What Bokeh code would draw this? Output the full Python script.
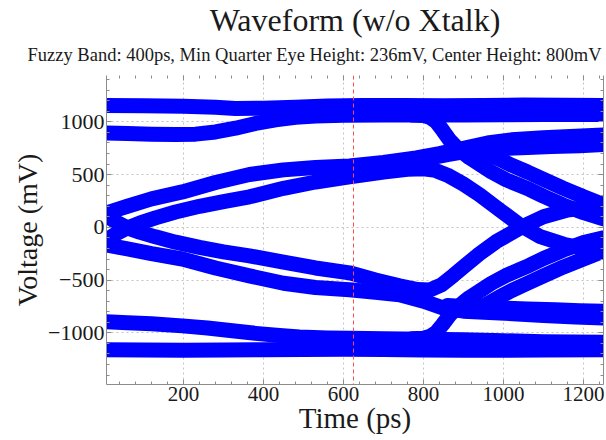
from bokeh.plotting import figure
from bokeh.models import Range1d, LinearAxis, Title, Span, FixedTicker
from bokeh.embed import file_html
from bokeh.resources import INLINE

FONT = "Liberation Serif"
BLUE = "#0000ff"

title_text = "Waveform (w/o Xtalk)"
subtitle_text = "Fuzzy Band: 400ps, Min Quarter Eye Height: 236mV, Center Height: 800mV"
x_label = "Time (ps)"
y_label = "Voltage (mV)"
x_ticks = [200, 400, 600, 800, 1000, 1200]
y_ticks = [-1000, -500, 0, 500, 1000]
x_minor = list(range(40, 1250, 40))
y_minor = list(range(-1400, 1450, 100))
center_time = 625

# ---- eye-diagram traces (time in ps, voltage in mV) ----
top_t = [7, 100, 200, 280, 330, 400, 480, 560, 650, 750, 850, 950, 1050, 1150, 1250]
top_v = [1155, 1152, 1148, 1138, 1128, 1130, 1140, 1150, 1155, 1155, 1152, 1155, 1160, 1158, 1155]

high2_t = [7, 60, 120, 180, 230, 280, 330, 380, 430, 480, 530, 600, 700, 800, 900, 1000, 1100, 1250]
high2_v = [895, 890, 884, 880, 884, 905, 940, 985, 1020, 1043, 1055, 1062, 1065, 1065, 1065, 1068, 1070, 1070]

fall1_t = [770, 800, 815, 832, 848, 865, 880, 900, 915, 940, 970, 1007, 1040, 1065, 1100, 1150, 1200, 1250]
fall1_v = [1065, 1060, 1045, 1000, 920, 830, 770, 705, 660, 600, 525, 450, 400, 360, 295, 210, 140, 80]

rise_out_t = [7, 60, 120, 197, 280, 365, 450, 530, 615, 700, 782, 840, 900, 960, 1020, 1100, 1180, 1250]
rise_out_v = [137, 200, 270, 336, 425, 501, 545, 568, 583, 615, 659, 700, 750, 800, 830, 850, 865, 875]

mid2_t = [820, 860, 900, 950, 1000, 1060, 1120, 1190, 1250]
mid2_v = [660, 690, 715, 735, 748, 758, 766, 775, 785]

fall2_t = [930, 960, 990, 1020, 1060, 1100, 1150, 1200, 1250]
fall2_v = [745, 705, 645, 590, 525, 455, 370, 290, 215]

rise_in_t = [7, 30, 60, 90, 130, 180, 240, 300, 365, 450, 530, 615, 700, 760, 800, 830,
             860, 900, 940, 990, 1040, 1090, 1150, 1200, 1250]
rise_in_v = [-118, -65, -5, 40, 90, 145, 200, 245, 290, 370, 430, 479, 525, 550, 555, 540,
             495, 410, 310, 166, 24, -85, -160, -200, -220]

fall_in_t = [7, 30, 60, 90, 130, 180, 240, 300, 365, 450, 530, 615, 680, 740, 785, 815,
             845, 875, 905, 940, 982, 1048, 1100, 1160, 1250]
fall_in_v = [109, 55, -5, -45, -90, -140, -190, -232, -270, -330, -385, -431, -500, -555, -590, -595,
             -545, -455, -360, -250, -135, 8, 100, 165, 210]

fall_out_t = [7, 60, 120, 197, 280, 365, 450, 530, 615, 680, 740, 800, 850, 900, 990, 1100, 1180, 1250]
fall_out_v = [-166, -205, -250, -300, -385, -460, -530, -570, -592, -615, -640, -700, -765, -795, -811, -835, -850, -860]

low2b_t = [860, 920, 990, 1060, 1130, 1190, 1250]
low2b_v = [-740, -755, -765, -775, -782, -790, -795]

rise2_t = [930, 960, 990, 1020, 1060, 1100, 1150, 1200, 1250]
rise2_v = [-775, -725, -660, -600, -530, -460, -375, -300, -225]

rise1_t = [770, 800, 815, 832, 848, 865, 880, 900, 915, 940, 970, 1007, 1040, 1065, 1100, 1150, 1200, 1250]
rise1_v = [-1057, -1052, -1035, -995, -920, -835, -775, -710, -665, -605, -530, -455, -400, -360, -295, -215, -145, -100]

low2_t = [7, 60, 120, 197, 260, 322, 380, 440, 490, 560, 615, 700, 800, 900, 1000, 1100, 1250]
low2_v = [-896, -905, -915, -934, -955, -981, -1005, -1025, -1040, -1048, -1052, -1057, -1060, -1065, -1075, -1085, -1090]

bottom_t = [7, 100, 200, 300, 400, 500, 600, 700, 800, 900, 1000, 1100, 1250]
bottom_v = [-1160, -1162, -1165, -1163, -1160, -1158, -1155, -1158, -1162, -1165, -1165, -1162, -1160]

xs = [top_t, high2_t, fall1_t, rise_out_t, mid2_t, fall2_t, rise_in_t,
      fall_in_t, fall_out_t, low2b_t, rise2_t, rise1_t, low2_t, bottom_t]
ys = [top_v, high2_v, fall1_v, rise_out_v, mid2_v, fall2_v, rise_in_v,
      fall_in_v, fall_out_v, low2b_v, rise2_v, rise1_v, low2_v, bottom_v]

p = figure(width=605, height=439,
           x_range=Range1d(7.5, 1250), y_range=Range1d(-1490, 1440),
           output_backend="svg", toolbar_location=None,
           min_border_left=106, min_border_right=2,
           min_border_top=75, min_border_bottom=55)
p.outline_line_color = None

p.multi_line(xs, ys, line_color=BLUE, line_width=15,
             line_join="round", line_cap="round")

p.add_layout(Span(location=center_time, dimension="height",
                  line_color="#ff4d4d", line_dash="4 3", line_width=1))


def style_axis(ax, labels=True):
    ax.axis_line_color = "#8c8c8c"
    ax.major_tick_line_color = "#8c8c8c"
    ax.minor_tick_line_color = "#8c8c8c"
    ax.major_tick_in = 5
    ax.major_tick_out = 0
    ax.minor_tick_in = 3
    ax.minor_tick_out = 0
    ax.major_label_text_font = FONT
    ax.axis_label_text_font = FONT
    ax.axis_label_text_font_style = "normal"
    ax.major_label_text_color = "#1a1a1a"
    ax.axis_label_text_color = "#1a1a1a"
    if not labels:
        ax.major_label_text_font_size = "1px"
        ax.major_label_text_color = None
        ax.major_label_standoff = 0


xa = p.xaxis[0]
ya = p.yaxis[0]
xa.ticker = FixedTicker(ticks=x_ticks, minor_ticks=x_minor)
ya.ticker = FixedTicker(ticks=y_ticks, minor_ticks=y_minor)
style_axis(xa)
style_axis(ya)
xa.axis_label = x_label
ya.axis_label = y_label
xa.major_label_text_font_size = "21px"
ya.major_label_text_font_size = "22px"
xa.axis_label_text_font_size = "29px"
ya.axis_label_text_font_size = "28px"
xa.major_label_standoff = 2
ya.major_label_standoff = 2
xa.axis_label_standoff = -2
ya.axis_label_standoff = 2

top_ax = LinearAxis(ticker=FixedTicker(ticks=x_ticks, minor_ticks=x_minor))
right_ax = LinearAxis(ticker=FixedTicker(ticks=y_ticks, minor_ticks=y_minor))
style_axis(top_ax, labels=False)
style_axis(right_ax, labels=False)
top_ax.axis_line_color = None
p.add_layout(top_ax, "above")
p.add_layout(right_ax, "right")

p.xgrid.ticker = FixedTicker(ticks=x_ticks)
p.ygrid.ticker = FixedTicker(ticks=y_ticks)
for g in (p.xgrid[0], p.ygrid[0]):
    g.grid_line_color = "#c4c4c4"
    g.grid_line_dash = "2 3"
    g.grid_line_width = 1

p.add_layout(Title(text=subtitle_text, align="left", offset=-79,
                   text_font=FONT, text_font_size="18.5px",
                   text_font_style="normal", text_color="#1a1a1a",
                   standoff=21), "above")
p.add_layout(Title(text=title_text, align="center",
                   text_font=FONT, text_font_size="32px",
                   text_font_style="normal", text_color="#1a1a1a",
                   standoff=-10), "above")

open("out.html", "w").write(file_html(p, INLINE))
